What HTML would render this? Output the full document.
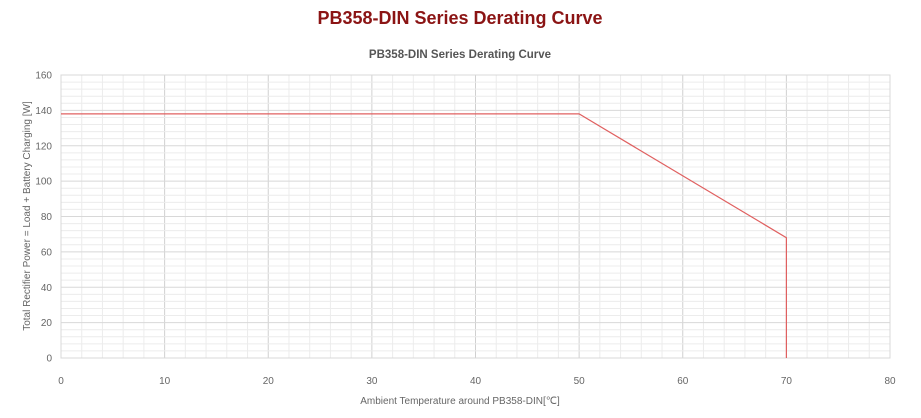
<!DOCTYPE html>
<html><head><style>
html,body{margin:0;padding:0;background:#fff;width:921px;height:418px;overflow:hidden}
</style></head><body>
<svg width="921" height="418" xmlns="http://www.w3.org/2000/svg" font-family="Liberation Sans, sans-serif">
<text x="460" y="24" text-anchor="middle" font-size="18" font-weight="bold" fill="#8b1414">PB358-DIN Series Derating Curve</text>
<text x="460" y="58" text-anchor="middle" font-size="11.5" font-weight="bold" fill="#555">PB358-DIN Series Derating Curve</text>
<g id="grid"></g>
<rect x="61" y="75" width="829" height="283" fill="none" stroke="#d8d8d8"/>
<polyline points="61,113.9 579.1,113.9 786.4,237.7 786.4,358" fill="none" stroke="#e06060" stroke-width="1.2"/>
<g id="lab" font-size="10" fill="#666"></g>
<text x="460" y="404" text-anchor="middle" font-size="10" fill="#666">Ambient Temperature around PB358-DIN[℃]</text>
<text transform="translate(30,216) rotate(-90)" text-anchor="middle" font-size="10" fill="#666">Total Rectifier Power = Load + Battery Charging [W]</text>
<script>
var g=document.getElementById('grid'),l=document.getElementById('lab'),ns='http://www.w3.org/2000/svg';
function ln(x1,y1,x2,y2,c){var e=document.createElementNS(ns,'line');e.setAttribute('x1',x1);e.setAttribute('y1',y1);e.setAttribute('x2',x2);e.setAttribute('y2',y2);e.setAttribute('stroke',c);g.appendChild(e);}
function tx(x,y,s,a){var e=document.createElementNS(ns,'text');e.setAttribute('x',x);e.setAttribute('y',y);e.setAttribute('text-anchor',a);e.textContent=s;l.appendChild(e);}
for(var v=0;v<=80;v+=2){var x=61+v*829/80;ln(x,75,x,358,v%10==0?'#d0d0d0':'#ececec');if(v%10==0)tx(x,384,v,'middle');}
for(var v=0;v<=160;v+=4){var y=358-v*283/160;ln(61,y,890,y,v%20==0?'#d8d8d8':'#ececec');if(v%20==0)tx(52,y+3.5,v,'end');}
</script>
</svg>
</body></html>
